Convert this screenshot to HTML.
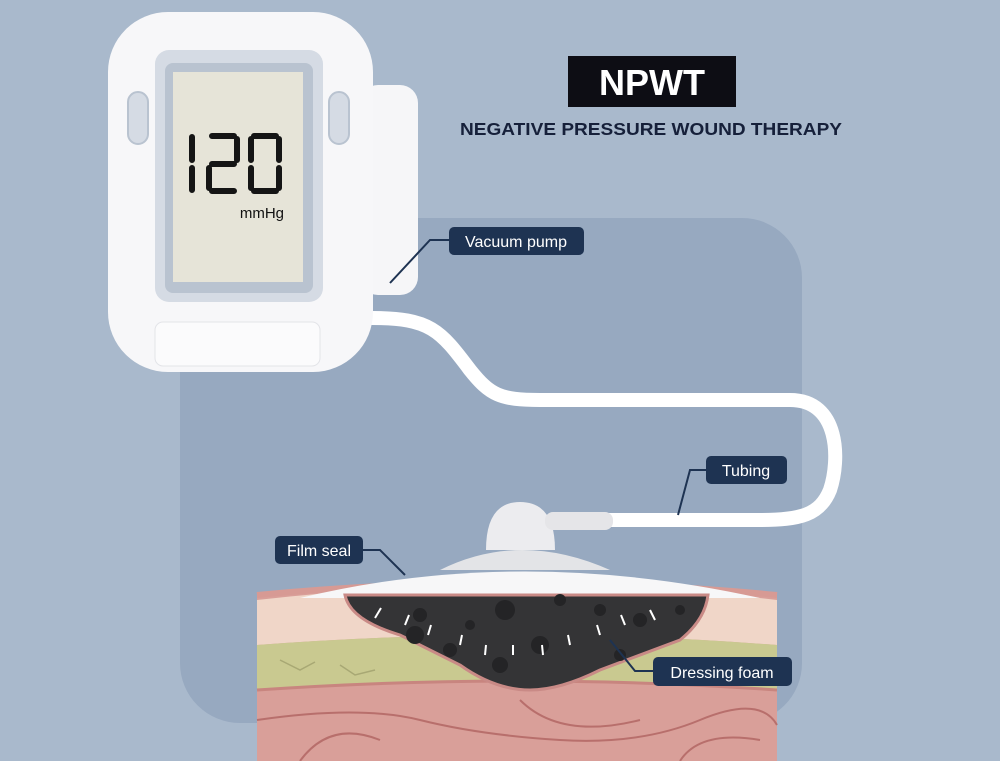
<!DOCTYPE html><html><head><style>body{margin:0}svg{display:block}</style></head><body>
<svg width="1000" height="761" viewBox="0 0 1000 761" xmlns="http://www.w3.org/2000/svg" font-family="Liberation Sans, sans-serif">
<rect width="1000" height="761" fill="#a9b9cc"/>
<rect x="180" y="218" width="622" height="505" rx="60" fill="#97a9c0"/>
<!-- tubing -->
<path d="M372 318 C430 318 440 330 470 370 C490 395 500 400 540 400 L790 400 C840 400 840 460 830 490 C820 515 800 520 760 520 L600 520" fill="none" stroke="#fff" stroke-width="14" stroke-linecap="round"/>
<!-- skin -->
<rect x="257" y="592" width="520" height="169" fill="#d99f99"/>
<path d="M257 600 Q520 570 777 600 L777 645 Q520 625 257 645Z" fill="#f0d6c8"/>
<path d="M257 645 Q520 625 777 645 L777 690 Q520 672 257 690Z" fill="#c9c990"/>
<path d="M257 595 Q520 570 777 595" stroke="#d79a94" stroke-width="6" fill="none"/>
<path d="M257 690 Q520 672 777 690" stroke="#c8857f" stroke-width="3" fill="none"/>
<g stroke="#b86f6c" stroke-width="2" fill="none"><path d="M257 720 Q360 705 420 720 T560 740 T700 720 T777 725"/><path d="M300 761 Q330 720 380 740"/><path d="M520 700 Q560 740 640 720"/><path d="M680 761 Q700 730 760 740"/></g>
<g stroke="#a8a874" stroke-width="1.5" fill="none"><path d="M280 660 l20 10 l15 -8"/><path d="M340 665 l15 10 l20 -5"/><path d="M690 660 l20 8 l15 -6"/><path d="M730 670 l15 10"/></g>
<!-- film & dome -->
<path d="M300 598 Q520 545 760 598Z" fill="#f7f7f8"/>
<path d="M440 570 Q520 530 610 570Z" fill="#e3e4e7"/>
<path d="M486 550 Q486 502 520 502 Q555 502 555 550Z" fill="#ececef"/>
<rect x="545" y="512" width="68" height="18" rx="8" fill="#e5e5e8"/>
<!-- foam -->
<path d="M345 595 L708 595 Q705 620 680 640 L600 670 Q560 690 530 690 Q495 690 460 665 L400 635 Q350 620 345 595Z" fill="#343436" stroke="#c98a86" stroke-width="3"/>
<g fill="#242426"><circle cx="505" cy="610" r="10"/><circle cx="420" cy="615" r="7"/><circle cx="470" cy="625" r="5"/><circle cx="540" cy="645" r="9"/><circle cx="600" cy="610" r="6"/><circle cx="640" cy="620" r="7"/><circle cx="415" cy="635" r="9"/><circle cx="500" cy="665" r="8"/><circle cx="560" cy="600" r="6"/><circle cx="620" cy="655" r="6"/><circle cx="450" cy="650" r="7"/><circle cx="680" cy="610" r="5"/></g>
<g stroke="#fff" stroke-width="2"><path d="M375 618 l6 -10"/><path d="M405 625 l4 -10"/><path d="M428 635 l3 -10"/><path d="M460 645 l2 -10"/><path d="M485 655 l1 -10"/><path d="M513 655 l0 -10"/><path d="M543 655 l-1 -10"/><path d="M570 645 l-2 -10"/><path d="M600 635 l-3 -10"/><path d="M625 625 l-4 -10"/><path d="M655 620 l-5 -10"/></g>
<!-- device -->
<rect x="360" y="85" width="58" height="210" rx="18" fill="#f6f6f8"/>
<rect x="108" y="12" width="265" height="360" rx="60" fill="#f7f7f9"/>
<rect x="155" y="50" width="168" height="252" rx="14" fill="#d5dbe4"/>
<rect x="165" y="63" width="148" height="230" rx="8" fill="#b9c3d0"/>
<rect x="173" y="72" width="130" height="210" fill="#e6e4d8"/>
<rect x="155" y="322" width="165" height="44" rx="8" fill="#fbfbfc" stroke="#e3e4e8"/>
<rect x="128" y="92" width="20" height="52" rx="10" fill="#d5dbe4" stroke="#b9c3d0" stroke-width="2"/>
<rect x="329" y="92" width="20" height="52" rx="10" fill="#d5dbe4" stroke="#b9c3d0" stroke-width="2"/>
<!-- seven-seg 120 -->
<g stroke="#151515" stroke-width="6" stroke-linecap="round" fill="none">
<path d="M192 137 V160 M192 168 V190"/>
<path d="M212 136 H234 M237 139 V160 M212 164 H234 M209 168 V188 M212 191 H234"/>
<path d="M254 136 H276 M279 139 V160 M279 168 V188 M254 191 H276 M251 139 V160 M251 168 V188"/>
</g>
<text x="284" y="218" font-size="15" text-anchor="end" fill="#111">mmHg</text>
<!-- title -->
<rect x="568" y="56" width="168" height="51" fill="#0d0d14"/>
<text x="652" y="95" font-size="36" font-weight="bold" fill="#fff" text-anchor="middle">NPWT</text>
<text x="651" y="135" font-size="17.5" font-weight="bold" fill="#16203a" text-anchor="middle" textLength="382" lengthAdjust="spacingAndGlyphs">NEGATIVE PRESSURE WOUND THERAPY</text>
<!-- leader lines -->
<g stroke="#1e3352" stroke-width="2" fill="none"><path d="M390 283 L430 240 L449 240"/><path d="M678 515 L690 470 L706 470"/><path d="M405 575 L380 550 L363 550"/><path d="M610 640 L635 671 L653 671"/></g>
<g font-size="16" fill="#fff">
<rect x="449" y="227" width="135" height="28" rx="5" fill="#1e3352"/><text x="516" y="247" text-anchor="middle">Vacuum pump</text>
<rect x="706" y="456" width="81" height="28" rx="5" fill="#1e3352"/><text x="746" y="476" text-anchor="middle">Tubing</text>
<rect x="275" y="536" width="88" height="28" rx="5" fill="#1e3352"/><text x="319" y="556" text-anchor="middle">Film seal</text>
<rect x="653" y="657" width="139" height="29" rx="5" fill="#1e3352"/><text x="722" y="678" text-anchor="middle">Dressing foam</text>
</g>
</svg></body></html>
